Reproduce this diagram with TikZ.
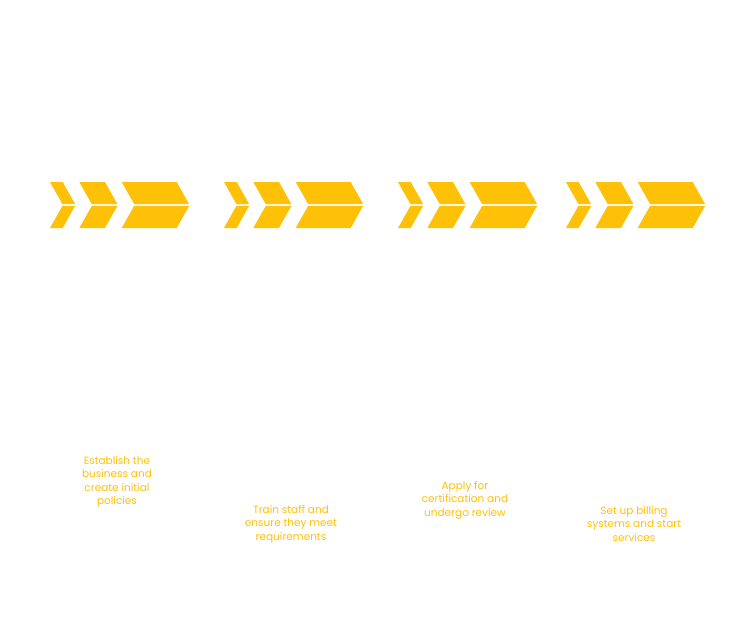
\documentclass[tikz,border=0pt]{standalone}
\usepackage{fontspec}
\setmainfont{Poppins}
\definecolor{amber}{HTML}{FFC107}
\begin{document}
\begin{tikzpicture}[x=1pt,y=-1pt,
  lbl/.style={text=amber,font=\fontsize{10.5}{13.5}\selectfont,align=center}]
\useasboundingbox[fill=white] (0,0) rectangle (745,625);
\foreach \g in {50,224,398,566}{
  \foreach \o/\w in {0/12.7,29.3/25.7,71.7/55}{
    \fill[amber] (\g+\o,182) -- (\g+\o+\w,182) -- (\g+\o+\w+12.5,204.2) -- (\g+\o+12.5,204.2) -- cycle;
    \fill[amber] (\g+\o+12.5,205.8) -- (\g+\o+\w+12.5,205.8) -- (\g+\o+\w,228) -- (\g+\o,228) -- cycle;
  }
}
\node[lbl] (t1) at (117,482) {Establish the\\business and\\create initial\\policies};
\node[lbl] (t2) at (291,524) {Train staff and\\ensure they meet\\requirements};
\node[lbl] (t3) at (465,500) {Apply for\\certification and\\undergo review};
\node[lbl] (t4) at (634,524) {Set up billing\\systems and start\\services};
\end{tikzpicture}
\end{document}
